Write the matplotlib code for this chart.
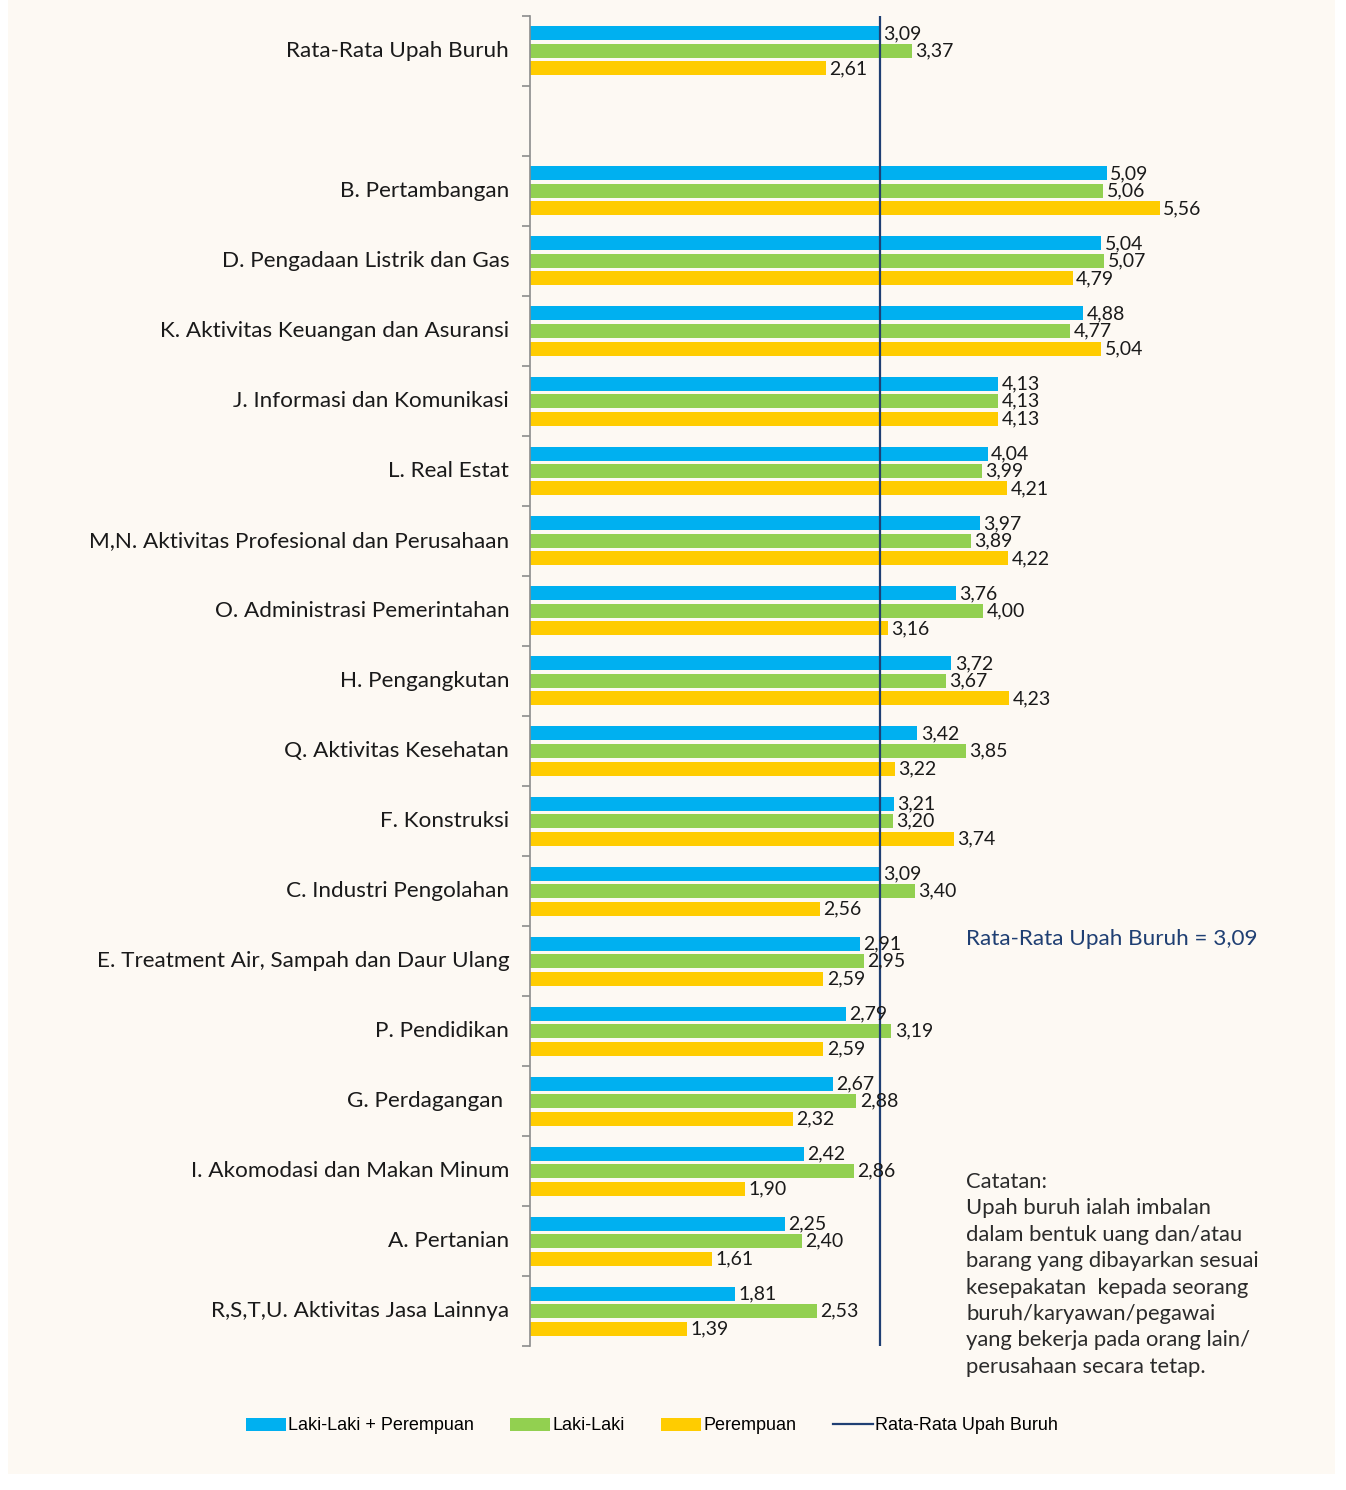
import matplotlib
matplotlib.use("Agg")
import matplotlib.pyplot as plt
from matplotlib.patches import Rectangle, Patch
from matplotlib.lines import Line2D
import numpy as np

# data
categories = [
    "Rata-Rata Upah Buruh",
    "",
    "B. Pertambangan",
    "D. Pengadaan Listrik dan Gas",
    "K. Aktivitas Keuangan dan Asuransi",
    "J. Informasi dan Komunikasi",
    "L. Real Estat",
    "M,N. Aktivitas Profesional dan Perusahaan",
    "O. Administrasi Pemerintahan",
    "H. Pengangkutan",
    "Q. Aktivitas Kesehatan",
    "F. Konstruksi",
    "C. Industri Pengolahan",
    "E. Treatment Air, Sampah dan Daur Ulang",
    "P. Pendidikan",
    "G. Perdagangan ",
    "I. Akomodasi dan Makan Minum",
    "A. Pertanian",
    "R,S,T,U. Aktivitas Jasa Lainnya",
]
total = [3.09, None, 5.09, 5.04, 4.88, 4.13, 4.04, 3.97, 3.76, 3.72, 3.42, 3.21,
         3.09, 2.91, 2.79, 2.67, 2.42, 2.25, 1.81]
male = [3.37, None, 5.06, 5.07, 4.77, 4.13, 3.99, 3.89, 4.00, 3.67, 3.85, 3.20,
        3.40, 2.95, 3.19, 2.88, 2.86, 2.40, 2.53]
female = [2.61, None, 5.56, 4.79, 5.04, 4.13, 4.21, 4.22, 3.16, 4.23, 3.22, 3.74,
          2.56, 2.59, 2.59, 2.32, 1.90, 1.61, 1.39]
avg_wage = 3.09

series_names = ["Laki-Laki + Perempuan", "Laki-Laki", "Perempuan"]
colors = ["#00B0F0", "#92D050", "#FFCC00"]
line_color = "#1F3F73"
bg = "#FDF9F3"

note_lines = [
    "Catatan:",
    "Upah buruh ialah imbalan",
    "dalam bentuk uang dan/atau",
    "barang yang dibayarkan sesuai",
    "kesepakatan  kepada seorang",
    "buruh/karyawan/pegawai",
    "yang bekerja pada orang lain/",
    "perusahaan secara tetap.",
]

W, H = 1346, 1490
fig = plt.figure(figsize=(W / 100, H / 100), dpi=100, facecolor="white")
fig.patches.append(Rectangle((8 / W, 1 - 1474 / H), 1327 / W, 1474 / H,
                             transform=fig.transFigure, facecolor=bg,
                             edgecolor="none", zorder=-10))

px_per_unit = 113.3
x_max = 7.1
ax = fig.add_axes([530 / W, 1 - 1346 / H, x_max * px_per_unit / W, 1330 / H])
ax.set_facecolor("none")

n = len(categories)
y = np.arange(n) + 0.5
offsets = [-0.25, 0.0, 0.25]
bar_h = 0.2
font = "Lato"

for series, off, c in zip([total, male, female], offsets, colors):
    for yi, v in zip(y, series):
        if v is None:
            continue
        ax.barh(yi + off, v, height=bar_h, color=c, edgecolor="none", zorder=2)
        ax.text(v + 0.03, yi + off, f"{v:.2f}".replace(".", ","),
                va="center", ha="left", fontsize=14, family=font,
                color="#1a1a1a", zorder=4)

ax.axvline(avg_wage, color=line_color, lw=1.6, zorder=3)

ax.set_xlim(0, x_max)
ax.set_ylim(n, 0)
ax.set_xticks([])
ax.set_yticks(np.arange(n + 1))
ax.set_yticklabels([])
ax.set_yticks(y - 0.03, minor=True)
ax.set_yticklabels(categories, minor=True, fontsize=16.2, family=font,
                   color="#1a1a1a")
ax.tick_params(axis="y", which="major", length=6, color="#8c8c8c", width=1.2)
ax.tick_params(axis="y", which="minor", length=0, pad=15)
for s in ["top", "right", "bottom"]:
    ax.spines[s].set_visible(False)
ax.spines["left"].set_color("#8c8c8c")
ax.spines["left"].set_linewidth(1.2)

# annotations
fig.text(966 / W, 1 - 939 / H, "Rata-Rata Upah Buruh = 3,09", fontsize=16.2,
         family=font, color="#1F3F73", va="center", ha="left")
for i, line in enumerate(note_lines):
    fig.text(966 / W, 1 - (1182 + i * 26.4) / H, line, fontsize=15.8,
             family=font, color="#2b2b2b", va="center", ha="left")

# legend
handles = [Patch(facecolor=c, edgecolor="none") for c in colors]
handles.append(Line2D([], [], color=line_color, lw=1.6))
leg = fig.legend(handles, series_names + ["Rata-Rata Upah Buruh"],
                 loc="center", bbox_to_anchor=(652 / W, 1 - 1426 / H), ncol=4,
                 frameon=False, handlelength=2.2, handleheight=0.7,
                 handletextpad=0.15, columnspacing=2.0,
                 prop={"family": "Liberation Sans", "size": 13})

fig.savefig("out.png", dpi=100, facecolor="white")
